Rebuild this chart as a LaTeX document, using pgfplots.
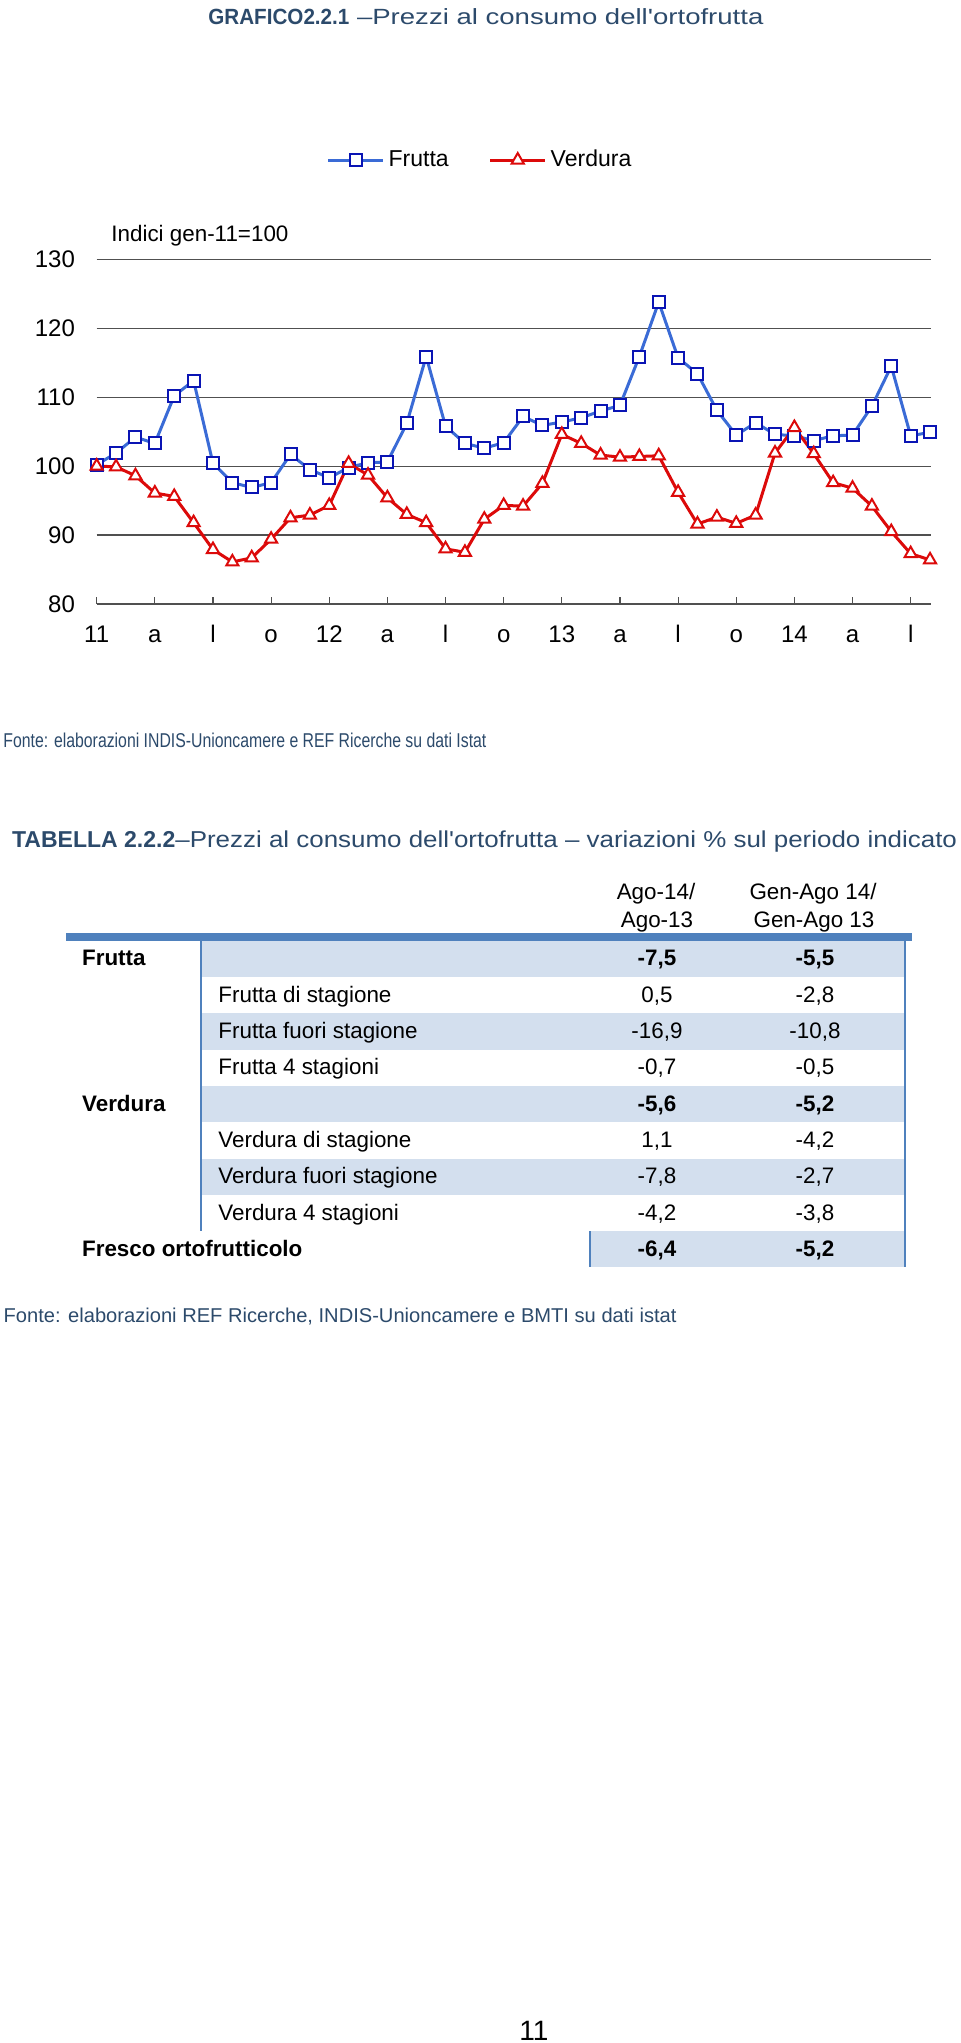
\documentclass[border=0pt]{standalone}
\usepackage{fontspec}
\setmainfont{Liberation Sans}[Ligatures=ResetAll]
\usepackage{graphicx}
\usepackage{pgfplots}
\usepackage{pgfplotstable}
\pgfplotsset{compat=1.18}

\definecolor{titleblue}{HTML}{2C4A6B}
\definecolor{fruttaline}{HTML}{3A6BD6}
\definecolor{fruttamark}{HTML}{0A14B4}
\definecolor{verdura}{HTML}{DC0A0A}
\definecolor{tabblue}{HTML}{4F81BD}
\definecolor{tabshade}{HTML}{D3DFEE}
\definecolor{gridgray}{HTML}{505050}

\pgfplotstableread{
x frutta verdura
0 100.2 100.0
1 101.9 99.9
2 104.2 98.6
3 103.3 96.1
4 110.2 95.6
5 112.4 91.8
6 100.4 87.9
7 97.6 86.1
8 96.9 86.7
9 97.6 89.4
10 101.7 92.5
11 99.5 92.9
12 98.3 94.3
13 99.8 100.4
14 100.5 98.7
15 100.6 95.4
16 106.2 93.0
17 115.9 91.8
18 105.8 88.0
19 103.3 87.5
20 102.6 92.3
21 103.4 94.3
22 107.2 94.2
23 105.9 97.5
24 106.4 104.6
25 107.0 103.3
26 108.0 101.6
27 108.8 101.3
28 115.9 101.4
29 123.8 101.5
30 115.7 96.2
31 113.4 91.6
32 108.1 92.6
33 104.5 91.7
34 106.3 92.9
35 104.6 101.9
36 104.4 105.6
37 103.7 101.8
38 104.4 97.6
39 104.5 96.8
40 108.7 94.2
41 114.5 90.5
42 104.4 87.3
43 104.9 86.4
}\datatable

\newcommand\tabfont{\fontsize{11.2}{13}\selectfont}

\begin{document}
\begin{tikzpicture}
\begin{scope}[x=0.5pt,y=-0.5pt]
\useasboundingbox (0,0) rectangle (960,2043);
% chart title
\node[anchor=base west, inner sep=0, text=titleblue] at (208,25)
 {\fontsize{11}{13}\selectfont\resizebox{70.5pt}{\height}{\bfseries GRAFICO2.2.1}\resizebox{207pt}{\height}{\ –Prezzi al consumo dell\textquotesingle ortofrutta}};
% index note
\node[anchor=base west, inner sep=0] at (111,241.7)
 {\fontsize{11.2}{13}\selectfont Indici gen-11=100};
% source 1
\node[anchor=base west, inner sep=0, text=titleblue] at (3,747)
 {\fontsize{10}{12}\selectfont\resizebox{241.5pt}{\height}{Fonte: elaborazioni INDIS-Unioncamere e REF Ricerche su dati Istat}};
% table title
\node[anchor=base west, inner sep=0, text=titleblue] at (11.7,847.3)
 {\fontsize{11.5}{13}\selectfont\resizebox{81.65pt}{\height}{\bfseries TABELLA 2.2.2}\resizebox{390.8pt}{\height}{–Prezzi al consumo dell\textquotesingle ortofrutta – variazioni \% sul periodo indicato}};
% headers
\node[anchor=base, inner sep=0] at (656,899) {\tabfont Ago-14/};
\node[anchor=base, inner sep=0] at (657,927.3) {\tabfont Ago-13};
\node[anchor=base, inner sep=0] at (813,899) {\tabfont Gen-Ago 14/};
\node[anchor=base, inner sep=0] at (814,927.3) {\tabfont Gen-Ago 13};
% shading
\fill[tabshade] (202,940.7) rectangle (905,977.0);
\fill[tabshade] (202,1013.3) rectangle (905,1049.6);
\fill[tabshade] (202,1085.9) rectangle (905,1122.2);
\fill[tabshade] (202,1158.5) rectangle (905,1194.8);
\fill[tabshade] (590,1231.1) rectangle (905,1267.4);
% rules
\fill[tabblue] (65.7,933.3) rectangle (912,940.7);
\fill[tabblue] (199.7,940.7) rectangle (202.4,1231.1);
\fill[tabblue] (903.6,940.7) rectangle (906.3,1267.4);
\fill[tabblue] (588.6,1231.1) rectangle (591.3,1267.4);
% rows
\node[anchor=base west, inner sep=0] at (81.7,965.9) {\tabfont\bfseries Frutta};
\node[anchor=base, inner sep=0] at (657,965.9) {\tabfont\bfseries -7,5};
\node[anchor=base, inner sep=0] at (815,965.9) {\tabfont\bfseries -5,5};
\node[anchor=base west, inner sep=0] at (218,1002.2) {\tabfont Frutta di stagione};
\node[anchor=base, inner sep=0] at (657,1002.2) {\tabfont 0,5};
\node[anchor=base, inner sep=0] at (815,1002.2) {\tabfont -2,8};
\node[anchor=base west, inner sep=0] at (218,1038.5) {\tabfont Frutta fuori stagione};
\node[anchor=base, inner sep=0] at (657,1038.5) {\tabfont -16,9};
\node[anchor=base, inner sep=0] at (815,1038.5) {\tabfont -10,8};
\node[anchor=base west, inner sep=0] at (218,1074.8) {\tabfont Frutta 4 stagioni};
\node[anchor=base, inner sep=0] at (657,1074.8) {\tabfont -0,7};
\node[anchor=base, inner sep=0] at (815,1074.8) {\tabfont -0,5};
\node[anchor=base west, inner sep=0] at (81.7,1111.1) {\tabfont\bfseries Verdura};
\node[anchor=base, inner sep=0] at (657,1111.1) {\tabfont\bfseries -5,6};
\node[anchor=base, inner sep=0] at (815,1111.1) {\tabfont\bfseries -5,2};
\node[anchor=base west, inner sep=0] at (218,1147.4) {\tabfont Verdura di stagione};
\node[anchor=base, inner sep=0] at (657,1147.4) {\tabfont 1,1};
\node[anchor=base, inner sep=0] at (815,1147.4) {\tabfont -4,2};
\node[anchor=base west, inner sep=0] at (218,1183.7) {\tabfont Verdura fuori stagione};
\node[anchor=base, inner sep=0] at (657,1183.7) {\tabfont -7,8};
\node[anchor=base, inner sep=0] at (815,1183.7) {\tabfont -2,7};
\node[anchor=base west, inner sep=0] at (218,1220.0) {\tabfont Verdura 4 stagioni};
\node[anchor=base, inner sep=0] at (657,1220.0) {\tabfont -4,2};
\node[anchor=base, inner sep=0] at (815,1220.0) {\tabfont -3,8};
\node[anchor=base west, inner sep=0] at (81.7,1256.3) {\tabfont\bfseries Fresco ortofrutticolo};
\node[anchor=base, inner sep=0] at (657,1256.3) {\tabfont\bfseries -6,4};
\node[anchor=base, inner sep=0] at (815,1256.3) {\tabfont\bfseries -5,2};
% source 2
\node[anchor=base west, inner sep=0, text=titleblue] at (3.3,1322.7)
 {\fontsize{10}{12}\selectfont\resizebox{336.4pt}{\height}{Fonte: elaborazioni REF Ricerche, INDIS-Unioncamere e BMTI su dati istat}};
% page number
\node[anchor=base, inner sep=0] at (534,2040) {\fontsize{14}{16}\selectfont 11};
\end{scope}

\begin{axis}[
  at={(48.35pt,-302pt)}, anchor=south west,
  scale only axis, width=417.15pt, height=172.35pt,
  xmin=0, xmax=43.05, ymin=80, ymax=130,
  axis x line*=bottom, axis y line*=left,
  y axis line style={draw=none},
  x axis line style={draw=gridgray, line width=0.6pt},
  ytick={80,90,...,130},
  ytick style={draw=none},
  ymajorgrids,
  major grid style={draw=gridgray, line width=0.6pt},
  xtick={0,3,...,42},
  xticklabels={11,a,l,o,12,a,l,o,13,a,l,o,14,a,l},
  tick align=inside,
  major tick length=3.7pt,
  xtick style={draw=gridgray, line width=0.6pt},
  ticklabel style={font=\fontsize{12}{14}\selectfont},
  /pgf/number format/assume math mode=true,
  yticklabel style={anchor=east, xshift=-7.35pt},
  xticklabel style={anchor=base, yshift=-19.25pt},
  clip=false,
  legend style={at={(0.4606,1.288)}, anchor=center, draw=none, fill=none,
    font=\fontsize{11.5}{13}\selectfont, inner sep=0pt,
    /tikz/every even column/.append style={column sep=18pt}},
  legend columns=2,
  legend image code/.code={\draw[mark repeat=2,mark phase=2] plot coordinates {(0pt,0pt) (13.75pt,0pt) (27.5pt,0pt)};},
]
\addplot[fruttaline, line width=1.5pt, mark=square*, mark size=3pt,
  mark options={draw=fruttamark, fill=white, line width=1pt, solid}]
  table[x=x, y=frutta]{\datatable};
\addlegendentry{Frutta}
\addplot[verdura, line width=1.5pt, mark=triangle*, mark size=3.5pt,
  mark options={draw=verdura, fill=white, line width=1pt, solid}]
  table[x=x, y=verdura]{\datatable};
\addlegendentry{Verdura}
\end{axis}
\end{tikzpicture}
\end{document}
